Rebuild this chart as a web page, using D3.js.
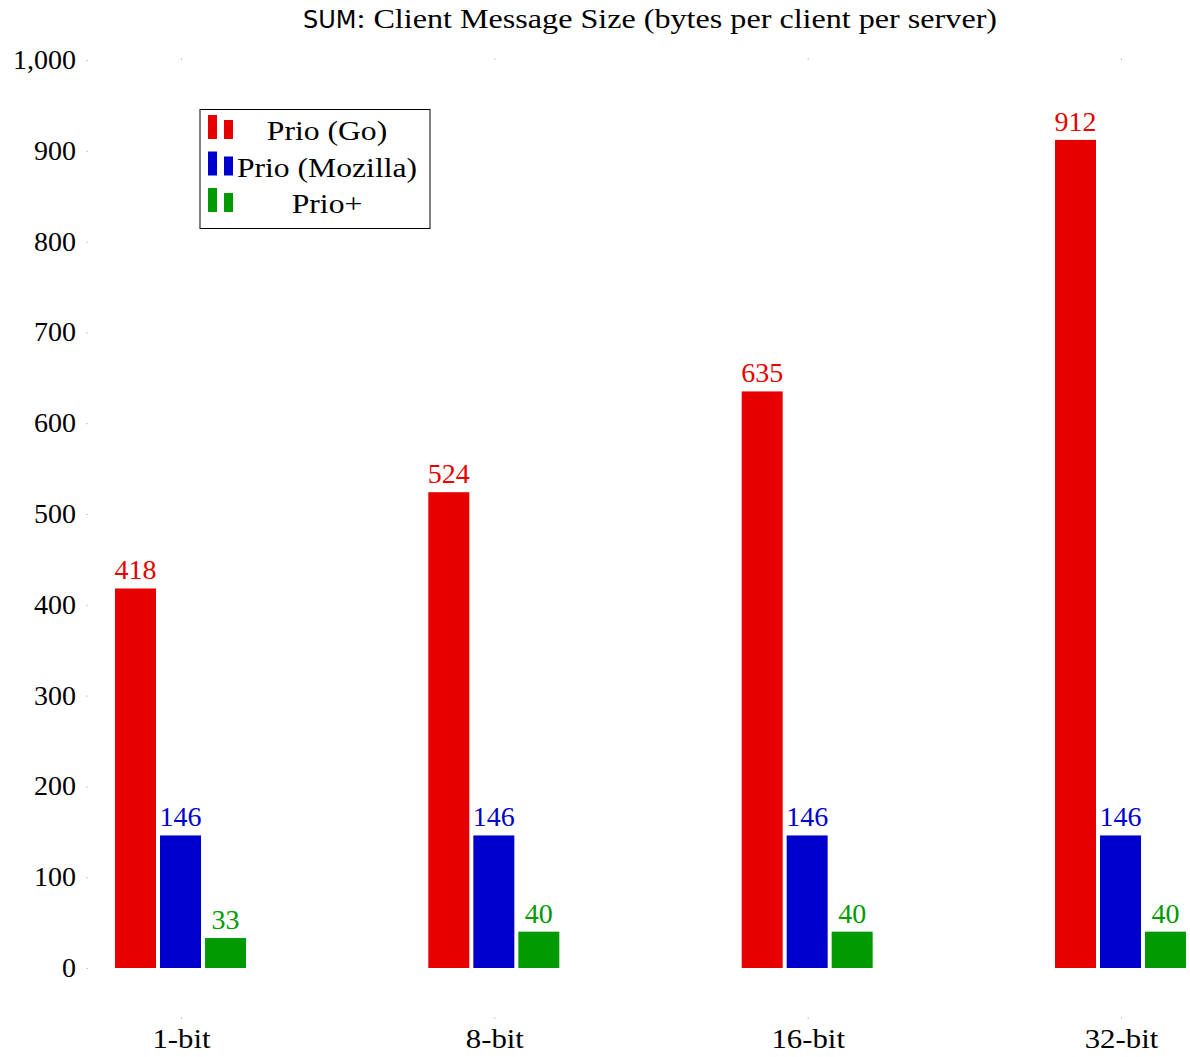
<!DOCTYPE html>
<html><head><meta charset="utf-8">
<script src="https://cdn.jsdelivr.net/npm/d3@7"></script>
<style>body{margin:0;background:#fff}svg{display:block}</style>
</head><body>
<script>
const categories = ["1-bit", "8-bit", "16-bit", "32-bit"];
const seriesNames = ["Prio (Go)", "Prio (Mozilla)", "Prio+"];
const prioGo = [418, 524, 635, 912];
const prioMozilla = [146, 146, 146, 146];
const prioPlus = [33, 40, 40, 40];
const yTicks = [0, 100, 200, 300, 400, 500, 600, 700, 800, 900, 1000];
const colors = ["#e60000", "#0000cc", "#009900"];

const W = 1190, H = 1057;
const serif = "'Liberation Serif', 'DejaVu Serif', serif";
const svg = d3.select("body").append("svg").attr("width", W).attr("height", H);

// widen Times-like glyphs to approximate Computer Modern proportions
function widen(sel, f) {
  sel.each(function () {
    const w = this.getComputedTextLength();
    d3.select(this).attr("textLength", w * f).attr("lengthAdjust", "spacingAndGlyphs");
  });
}

const plotLeft = 88, plotTop = 60;
const y = d3.scaleLinear().domain([0, 1000]).range([968, 60]);
const x = d3.scalePoint().domain(categories).range([181, 1121]);
const plotBottom = y(-54);

const series = [prioGo, prioMozilla, prioPlus];
const inner = d3.scaleBand().domain(d3.range(3)).range([-66, 65]).paddingInner(0.089).paddingOuter(0);

// title
const tg = svg.append("g");
const tSum = tg.append("text").attr("y", 28).attr("font-family", "'DejaVu Sans', sans-serif")
  .attr("font-size", 24).attr("fill", "#000").text("SUM");
const tRest = tg.append("text").attr("y", 28).attr("font-family", serif)
  .attr("font-size", 27).attr("fill", "#000").text(": Client Message Size (bytes per client per server)");
const sumW = tSum.node().getComputedTextLength();
const restW = tRest.node().getComputedTextLength() * 1.19;
tRest.attr("textLength", restW).attr("lengthAdjust", "spacingAndGlyphs");
const tStart = 650 - (sumW + restW) / 2;
tSum.attr("x", tStart);
tRest.attr("x", tStart + sumW);

// y axis
const yAxis = svg.append("g").attr("transform", `translate(${plotLeft},0)`)
  .call(d3.axisLeft(y).tickValues(yTicks).tickSize(2).tickFormat(d3.format(",")));
yAxis.select(".domain").remove();
yAxis.selectAll(".tick line").attr("stroke", "#bbb").attr("stroke-width", 0.8);
yAxis.selectAll(".tick text").attr("x", -12).attr("font-family", serif).attr("font-size", 28).attr("fill", "#000").attr("dy", "0.3em");

// x axis (bottom)
const xAxis = svg.append("g").attr("transform", `translate(0,${plotBottom})`)
  .call(d3.axisBottom(x).tickSize(2));
xAxis.select(".domain").remove();
xAxis.selectAll(".tick line").attr("stroke", "#bbb").attr("stroke-width", 0.8);
xAxis.selectAll(".tick text").attr("y", 31).attr("dy", 0).attr("font-family", serif).attr("font-size", 28).attr("fill", "#000")
  .call(widen, 1.1);

// top ticks
const xTop = svg.append("g").attr("transform", `translate(0,${plotTop})`)
  .call(d3.axisTop(x).tickSize(2).tickFormat(""));
xTop.select(".domain").remove();
xTop.selectAll(".tick line").attr("stroke", "#bbb").attr("stroke-width", 0.8);

// bars
series.forEach((vals, si) => {
  const g = svg.append("g");
  g.selectAll("rect").data(vals).join("rect")
    .attr("x", (d, i) => x(categories[i]) + inner(si))
    .attr("width", inner.bandwidth())
    .attr("y", d => y(d))
    .attr("height", d => y(0) - y(d))
    .attr("fill", colors[si]);
  g.selectAll("text").data(vals).join("text")
    .attr("x", (d, i) => x(categories[i]) + inner(si) + inner.bandwidth() / 2)
    .attr("y", d => y(d) - 9)
    .attr("text-anchor", "middle")
    .attr("font-family", serif).attr("font-size", 28)
    .attr("fill", colors[si])
    .text(d => d);
});

// legend
const lg = svg.append("g");
lg.append("rect").attr("x", 200).attr("y", 109.5).attr("width", 230).attr("height", 119)
  .attr("fill", "#fff").attr("stroke", "#000").attr("stroke-width", 1);
seriesNames.forEach((name, i) => {
  const yy = 115 + i * 36.5;
  lg.append("rect").attr("x", 208).attr("y", yy).attr("width", 9).attr("height", 24).attr("fill", colors[i]);
  lg.append("rect").attr("x", 224).attr("y", yy + 5).attr("width", 9).attr("height", 19).attr("fill", colors[i]);
  lg.append("text").attr("x", 327).attr("y", yy + 25).attr("text-anchor", "middle")
    .attr("font-family", serif).attr("font-size", 28).attr("fill", "#000").text(name)
    .call(widen, 1.13);
});
</script>
</body></html>
